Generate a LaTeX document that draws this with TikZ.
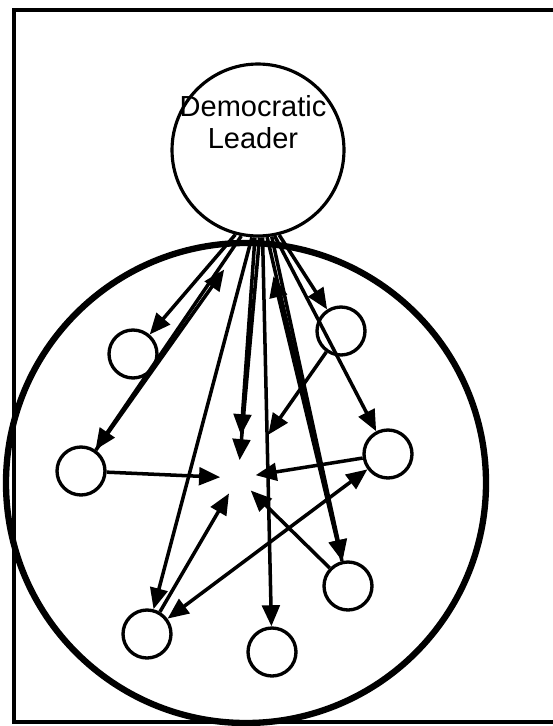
\documentclass[tikz,border=0pt]{standalone}
\usepackage{fontspec}
\setmainfont{Liberation Sans}
\usetikzlibrary{arrows.meta}

\begin{document}
\begin{tikzpicture}[x=0.02cm,y=-0.02cm,
    >={Triangle[length=12pt,width=10pt]},
    member/.style={circle,draw,line width=1.9pt,minimum size=0.96cm,inner sep=0pt},
    leader/.style={circle,draw,line width=1.8pt,minimum size=3.44cm,inner sep=0pt},
    hubpt/.style={circle,minimum size=0.7cm,inner sep=0pt},
    arr/.style={->,line width=2pt}]
  \useasboundingbox (0,0) rectangle (552,726);
  % frame, its right side runs off the page
  \draw[line width=2.2pt] (580,10) -- (14,10) -- (14,722) -- (580,722);
  % the group
  \draw[line width=3.6pt] (246,483) circle [radius=240];
  \node[leader] (lead) at (258,150) {};
  \node[font=\fontsize{16.5}{18.5}\selectfont,align=center,inner sep=0pt] (leadtxt) at (253,122) {Democratic\\Leader};
  \node[member] (m1) at (133,354) {};
  \node[member] (m2) at (341,331) {};
  \node[member] (m3) at (81,471) {};
  \node[member] (m4) at (388,454) {};
  \node[member] (m5) at (147,634) {};
  \node[member] (m6) at (272,652) {};
  \node[member] (m7) at (348,586) {};
  \node[hubpt] (hub) at (238,478) {};
  % leader to the members
  \draw[arr] (lead.255) -- (m1);
  \draw[arr] (lead.259) -- (m3);
  \draw[arr,shorten >=0.8cm] (m3) -- (lead.263);
  \draw[arr] (lead.266) -- (m5);
  \draw[arr,shorten >=0.5cm] (lead.268) -- (hub);
  \draw[arr] (lead.271) -- (hub);
  \draw[arr] (lead.273) -- (m6);
  \draw[arr] (lead.276) -- (m7);
  \draw[arr] (lead.279) -- (m7);
  \draw[arr,shorten >=0.8cm] (m7) -- (lead.274);
  \draw[arr] (lead.281) -- (m4);
  \draw[arr] (lead.284) -- (m2);
  % members to the middle
  \draw[arr,shorten >=0.7cm] (m2) -- (hub);
  \draw[arr] (m3) -- (hub);
  \draw[arr] (m4) -- (hub);
  \draw[arr] (m5) -- (hub);
  \draw[arr] (m7) -- (hub);
  \draw[arr,<->] (m5) -- (m4);
\end{tikzpicture}
\end{document}
